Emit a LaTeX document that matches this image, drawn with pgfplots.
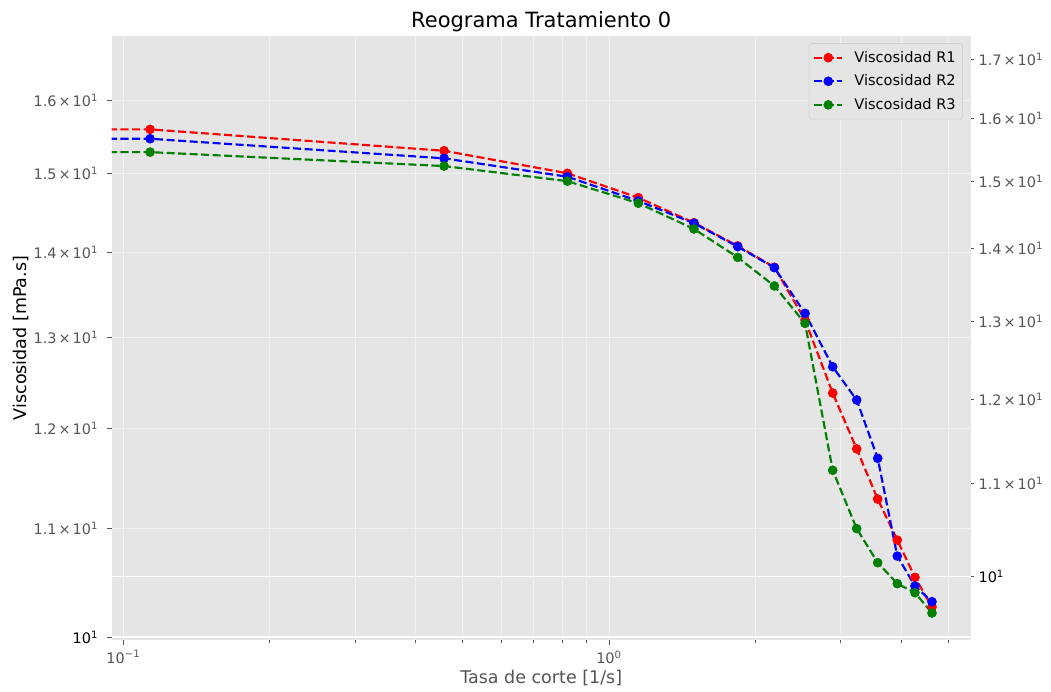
\documentclass[border=0pt]{standalone}
\usepackage{pgfplots}
\pgfplotsset{compat=1.18}
\usepackage{pgfplotstable}
\usepackage{fontspec}
\setmainfont{DejaVu Sans}
\definecolor{bg}{RGB}{229,229,229}
\definecolor{tickgray}{RGB}{85,85,85}
\definecolor{mgrid}{RGB}{242,242,242}
\definecolor{mplgreen}{RGB}{0,128,0}
\definecolor{legframe}{RGB}{204,204,204}

\pgfplotstableread{
x r1 r2 r3
0.001 15.594 15.467 15.287
0.1135 15.594 15.467 15.287
0.4574 15.305 15.203 15.101
0.8209 15.006 14.961 14.904
1.149 14.689 14.647 14.618
1.496 14.371 14.364 14.292
1.841 14.081 14.073 13.942
2.190 13.821 13.816 13.597
2.533 13.197 13.275 13.159
2.888 12.380 12.668 11.571
3.236 11.789 12.305 10.995
3.575 11.283 11.693 10.672
3.924 10.885 10.734 10.478
4.266 10.536 10.456 10.395
4.624 10.266 10.314 10.212
}\datatab

\newcommand{\tl}[1]{#1\kern0.14em×\kern0.14em10\textsuperscript{1}}

\begin{document}
\begin{tikzpicture}
\useasboundingbox (-80.42pt,-36.72pt) rectangle (676.30pt,460.8pt);
% right axis (twin) with background
\begin{axis}[
  at={(0,0)}, anchor=south west,
  scale only axis, width=618.48pt, height=434.88pt,
  xmode=log, ymode=log,
  xmin=0.0946, xmax=5.556, ymin=9.3713, ymax=17.42,
  axis background/.style={fill=bg},
  axis line style={draw=none},
  xtick=\empty, xticklabels={},
  ytick={11,12,13,14,15,16,17},
  yticklabels={\tl{1.1},\tl{1.2},\tl{1.3},\tl{1.4},\tl{1.5},\tl{1.6},\tl{1.7}},
  ytick pos=right, yticklabel pos=right,
  minor ytick={},
  extra y ticks={10},
  extra y tick labels={10\textsuperscript{1}},
  extra y tick style={grid=major, major grid style={white, line width=0.9pt}, yticklabel style={text=black}},
  tick style={color=tickgray, line width=0.6pt},
  tick align=outside, major tick length=2.5pt,
  yticklabel style={font=\fontsize{10.4}{12}\selectfont, text=tickgray, anchor=west, inner sep=0pt, xshift=3pt},
]
\end{axis}
% left axis with data
\begin{axis}[
  at={(0,0)}, anchor=south west,
  scale only axis, width=618.48pt, height=434.88pt,
  xmode=log, ymode=log,
  xmin=0.0946, xmax=5.556, ymin=9.9738, ymax=16.923,
  axis line style={draw=none},
  xtick={0.1,1},
  xticklabels={10\textsuperscript{−1},10\textsuperscript{0}},
  minor xtick={0.2,0.3,0.4,0.5,0.6,0.7,0.8,0.9,2,3,4,5},
  xtick pos=bottom,
  xmajorgrids, xminorgrids,
  major grid style={mgrid, line width=0.6pt},
  minor grid style={mgrid, line width=0.5pt},
  ytick={10},
  yticklabels={10\textsuperscript{1}},
  ytick pos=left,
  extra y ticks={11,12,13,14,15,16},
  extra y tick labels={\tl{1.1},\tl{1.2},\tl{1.3},\tl{1.4},\tl{1.5},\tl{1.6}},
  extra y tick style={grid=major, major grid style={mgrid, line width=0.5pt}, yticklabel style={text=tickgray}},
  tick style={color=tickgray, line width=0.6pt},
  tick align=outside, major tick length=3.5pt, minor tick length=2pt,
  yticklabel style={font=\fontsize{10.4}{12}\selectfont, text=black, anchor=east, inner sep=0pt, xshift=-6pt},
  xticklabel style={font=\fontsize{10.4}{12}\selectfont, text=tickgray, anchor=north, inner sep=0pt, yshift=-4pt},
  title={Reograma Tratamiento 0},
  title style={at={(axis description cs:0.5,1.0)}, anchor=base, font=\fontsize{15.1}{18}\selectfont, text=black, inner sep=0pt},
  xlabel={Tasa de corte [1/s]},
  xlabel style={at={(axis description cs:0.5,-0.0728)}, anchor=base, font=\fontsize{12.6}{15}\selectfont, text=tickgray, inner sep=0pt},
  ylabel={Viscosidad [mPa.s]},
  ylabel style={at={(axis description cs:-0.0986,0.5)}, anchor=base, rotate=0, font=\fontsize{12.6}{15}\selectfont, text=black, inner sep=0pt},
  legend style={at={(axis description cs:0.991,0.988)}, anchor=north east, fill=bg, draw=legframe, rounded corners=2pt, font=\fontsize{10.5}{12}\selectfont, text=black, row sep=3.5pt, inner xsep=3pt, inner ysep=3.5pt, /tikz/every odd column/.append style={column sep=6pt}},
  legend cell align=left,
  legend image code/.code={\draw[mark repeat=2,mark phase=2] plot coordinates {(0pt,0pt) (10pt,0pt) (20pt,0pt)};},
  every axis plot/.append style={line width=1.55pt, dash pattern=on 5.8pt off 2.5pt, mark=*, mark size=3.2pt},
]
\draw[white, line width=0.9pt] (axis cs:0.0946,10) -- (axis cs:5.556,10);
\addplot[color=red, mark options={solid, fill=red, draw=red, line width=0.5pt}] table[x=x, y=r1] {\datatab};
\addlegendentry{Viscosidad R1}
\addplot[color=blue, mark options={solid, fill=blue, draw=blue, line width=0.5pt}] table[x=x, y=r2] {\datatab};
\addlegendentry{Viscosidad R2}
\addplot[color=mplgreen, mark options={solid, fill=mplgreen, draw=mplgreen, line width=0.5pt}] table[x=x, y=r3] {\datatab};
\addlegendentry{Viscosidad R3}
\end{axis}
\end{tikzpicture}
\end{document}
